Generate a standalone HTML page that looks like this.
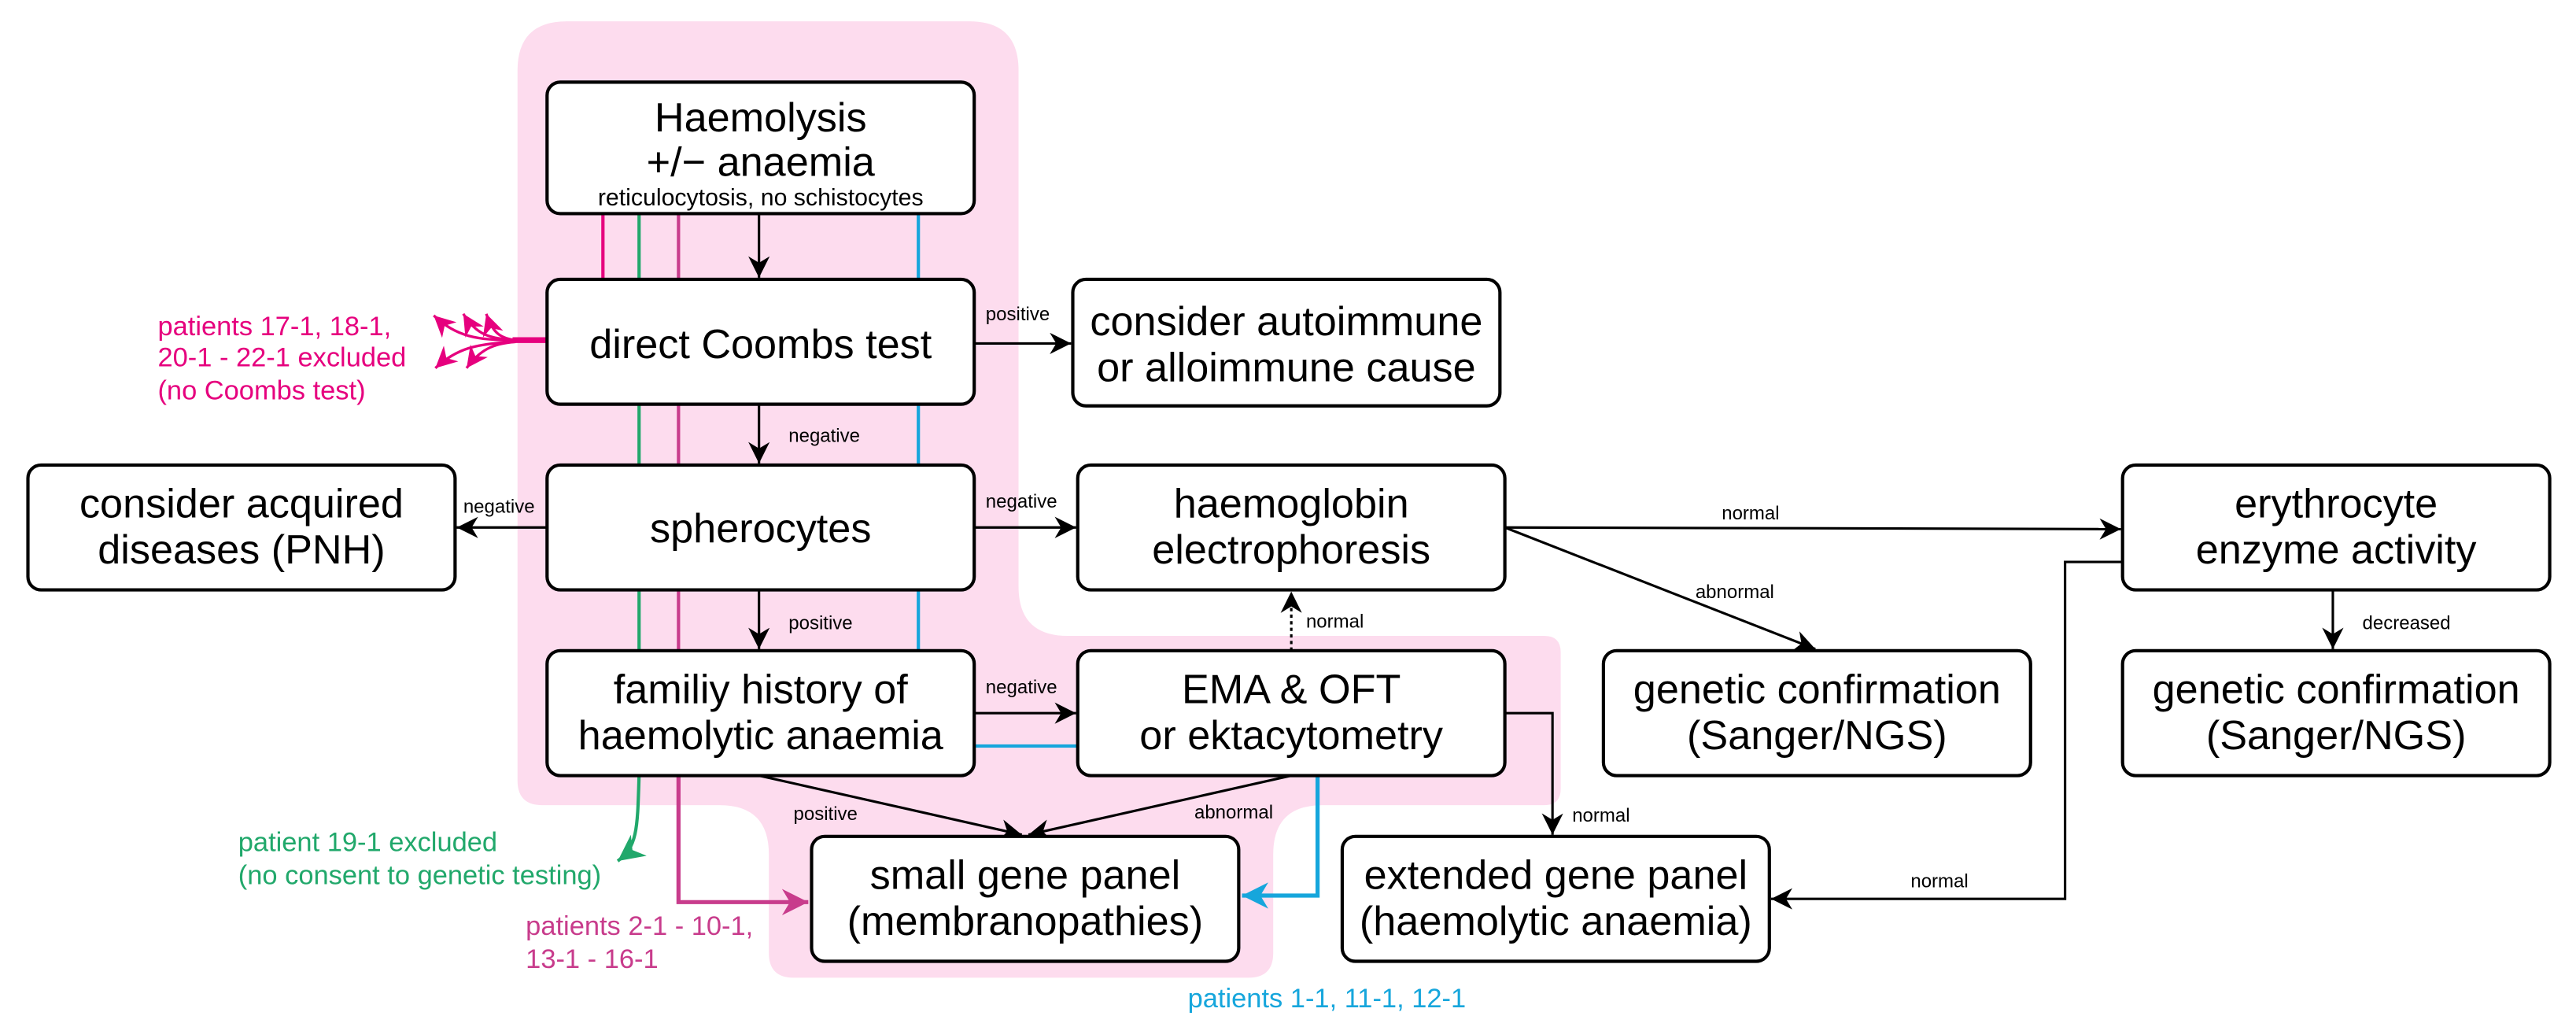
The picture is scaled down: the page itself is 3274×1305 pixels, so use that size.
<!DOCTYPE html>
<html><head><meta charset="utf-8"><style>
html,body{margin:0;padding:0;background:#fff;}
svg{display:block;}
text{font-family:"Liberation Sans",sans-serif;}
.b{fill:#fff;stroke:#000;stroke-width:2;}
.t{font-size:25px;text-anchor:middle;fill:#000;}
.s{font-size:11.5px;fill:#000;}
.l{stroke:#000;stroke-width:1.5;fill:none;}
</style></head><body>
<svg width="3274" height="1305" viewBox="0 0 1568 625" xmlns="http://www.w3.org/2000/svg">
<defs>
<marker id="a" viewBox="0 0 10 10" refX="10" refY="5" markerWidth="13" markerHeight="13" markerUnits="userSpaceOnUse" orient="auto"><path d="M0,0 L10,5 L0,10 L3,5z" fill="#000"/></marker>
<marker id="ap" viewBox="0 0 10 10" refX="10" refY="5" markerWidth="13" markerHeight="13" markerUnits="userSpaceOnUse" orient="auto"><path d="M0,0 L10,5 L0,10 L3,5z" fill="#e6007e"/></marker>
<marker id="ag" viewBox="0 0 10 10" refX="10" refY="5" markerWidth="16" markerHeight="16" markerUnits="userSpaceOnUse" orient="auto"><path d="M0,0 L10,5 L0,10 L3,5z" fill="#21a86b"/></marker>
<marker id="am" viewBox="0 0 10 10" refX="10" refY="5" markerWidth="16" markerHeight="16" markerUnits="userSpaceOnUse" orient="auto"><path d="M0,0 L10,5 L0,10 L3,5z" fill="#c83c8c"/></marker>
<marker id="ab" viewBox="0 0 10 10" refX="10" refY="5" markerWidth="16" markerHeight="16" markerUnits="userSpaceOnUse" orient="auto"><path d="M0,0 L10,5 L0,10 L3,5z" fill="#16a6dc"/></marker>
</defs>
<path fill="#fddcee" d="M345,13 H590 Q620,13 620,43 V357 Q620,387 650,387 H940 Q950,387 950,397 V480 Q950,490 940,490 H805 Q775,490 775,520 V580 Q775,595 760,595 H483 Q468,595 468,580 V520 Q468,490 438,490 H330 Q315,490 315,475 V43 Q315,13 345,13 Z"/>
<g fill="none" stroke-width="2">
<path d="M367,130V170" stroke="#e6007e"/>
<path d="M389,130V170M389,246V283M389,359V396" stroke="#21a86b"/>
<path d="M413,130V170M413,246V283M413,359V396" stroke="#c83c8c"/>
<path d="M559,130V170M559,246V283M559,359V396" stroke="#16a6dc"/>
<path d="M593,454H656" stroke="#16a6dc"/>
<path d="M389,472 C388,505 388,515 376,524" stroke="#21a86b" marker-end="url(#ag)"/>
<path d="M413,472V549H492" stroke="#c83c8c" stroke-width="2.5" marker-end="url(#am)"/>
<path d="M802,472V545H756" stroke="#16a6dc" stroke-width="2.5" marker-end="url(#ab)"/>
</g>
<g fill="none" stroke="#e6007e" stroke-width="1.6">
<path d="M333,207H312" stroke-width="3.5"/>
<path d="M314,207 C290,207 278,205 264,192" marker-end="url(#ap)"/>
<path d="M314,207 C298,206 290,204 282,191" marker-end="url(#ap)"/>
<path d="M314,207 C305,206 300,203 296,191" marker-end="url(#ap)"/>
<path d="M314,208 C290,209 278,212 265,224" marker-end="url(#ap)"/>
<path d="M314,208 C300,209 292,213 284,224" marker-end="url(#ap)"/>
</g>
<path class="l" d="M462,130V169" marker-end="url(#a)"/>
<path class="l" d="M593,209H652" marker-end="url(#a)"/>
<path class="l" d="M462,246V282" marker-end="url(#a)"/>
<path class="l" d="M333,321H278" marker-end="url(#a)"/>
<path class="l" d="M593,321H655" marker-end="url(#a)"/>
<path class="l" d="M462,359V395" marker-end="url(#a)"/>
<path class="l" d="M593,434H655" marker-end="url(#a)"/>
<path class="l" d="M786,396V360" stroke-dasharray="2,2" marker-end="url(#a)"/>
<path class="l" d="M916,321L1291,322" marker-end="url(#a)"/>
<path class="l" d="M916,321L1105,395" marker-end="url(#a)"/>
<path class="l" d="M462,472L622,508" marker-end="url(#a)"/>
<path class="l" d="M786,472L626,508" marker-end="url(#a)"/>
<path class="l" d="M916,434H945V508" marker-end="url(#a)"/>
<path class="l" d="M1420,359V395" marker-end="url(#a)"/>
<path class="l" d="M1292,342H1257V547H1078" marker-end="url(#a)"/>
<rect class="b" x="333" y="50" width="260" height="80" rx="8"/>
<rect class="b" x="333" y="170" width="260" height="76" rx="8"/>
<rect class="b" x="653" y="170" width="260" height="77" rx="8"/>
<rect class="b" x="17" y="283" width="260" height="76" rx="8"/>
<rect class="b" x="333" y="283" width="260" height="76" rx="8"/>
<rect class="b" x="656" y="283" width="260" height="76" rx="8"/>
<rect class="b" x="1292" y="283" width="260" height="76" rx="8"/>
<rect class="b" x="333" y="396" width="260" height="76" rx="8"/>
<rect class="b" x="656" y="396" width="260" height="76" rx="8"/>
<rect class="b" x="976" y="396" width="260" height="76" rx="8"/>
<rect class="b" x="1292" y="396" width="260" height="76" rx="8"/>
<rect class="b" x="494" y="509" width="260" height="76" rx="8"/>
<rect class="b" x="817" y="509" width="260" height="76" rx="8"/>
<text class="t" x="463" y="80">Haemolysis</text>
<text class="t" x="463" y="107">+/− anaemia</text>
<text class="t" x="463" y="125" style="font-size:14.5px">reticulocytosis, no schistocytes</text>
<text class="t" x="463" y="218">direct Coombs test</text>
<text class="t" x="783" y="204">consider autoimmune</text>
<text class="t" x="783" y="232">or alloimmune cause</text>
<text class="t" x="147" y="315">consider acquired</text>
<text class="t" x="147" y="343">diseases (PNH)</text>
<text class="t" x="463" y="330">spherocytes</text>
<text class="t" x="786" y="315">haemoglobin</text>
<text class="t" x="786" y="343">electrophoresis</text>
<text class="t" x="1422" y="315">erythrocyte</text>
<text class="t" x="1422" y="343">enzyme activity</text>
<text class="t" x="463" y="428">familiy history of</text>
<text class="t" x="463" y="456">haemolytic anaemia</text>
<text class="t" x="786" y="428">EMA &amp; OFT</text>
<text class="t" x="786" y="456">or ektacytometry</text>
<text class="t" x="1106" y="428">genetic confirmation</text>
<text class="t" x="1106" y="456">(Sanger/NGS)</text>
<text class="t" x="1422" y="428">genetic confirmation</text>
<text class="t" x="1422" y="456">(Sanger/NGS)</text>
<text class="t" x="624" y="541">small gene panel</text>
<text class="t" x="624" y="569">(membranopathies)</text>
<text class="t" x="947" y="541">extended gene panel</text>
<text class="t" x="947" y="569">(haemolytic anaemia)</text>
<text class="s" x="600" y="195">positive</text>
<text class="s" x="480" y="269">negative</text>
<text class="s" x="282" y="312">negative</text>
<text class="s" x="600" y="309">negative</text>
<text class="s" x="480" y="383">positive</text>
<text class="s" x="600" y="422">negative</text>
<text class="s" x="795" y="382">normal</text>
<text class="s" x="1048" y="316">normal</text>
<text class="s" x="1032" y="364">abnormal</text>
<text class="s" x="483" y="499">positive</text>
<text class="s" x="727" y="498">abnormal</text>
<text class="s" x="957" y="500">normal</text>
<text class="s" x="1438" y="383">decreased</text>
<text class="s" x="1163" y="540">normal</text>
<g style="font-size:16.5px">
<text x="96" y="204" fill="#e6007e">patients 17-1, 18-1,</text>
<text x="96" y="223" fill="#e6007e">20-1 - 22-1 excluded</text>
<text x="96" y="243" fill="#e6007e">(no Coombs test)</text>
<text x="145" y="518" fill="#21a86b">patient 19-1 excluded</text>
<text x="145" y="538" fill="#21a86b">(no consent to genetic testing)</text>
<text x="320" y="569" fill="#c83c8c">patients 2-1 - 10-1,</text>
<text x="320" y="589" fill="#c83c8c">13-1 - 16-1</text>
<text x="723" y="613" fill="#16a6dc">patients 1-1, 11-1, 12-1</text>
</g>
</svg>
</body></html>
